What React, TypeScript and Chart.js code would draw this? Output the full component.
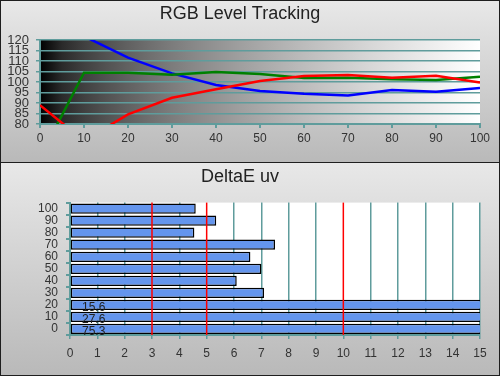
import React, { useEffect, useRef } from "react";
import { Chart, registerables } from "chart.js";

Chart.register(...registerables);

// ---- data ----
const levels = [0, 10, 20, 30, 40, 50, 60, 70, 80, 90, 100];
const redLevels = [89, 72, 84.6, 92.5, 96.5, 100.5, 102.9, 103.3, 102, 103, 99.8];
const greenLevels = [64, 104.4, 104.4, 103.5, 104.8, 103.8, 101.9, 102, 101.3, 101, 102.5];
const blueLevels = [140, 121.8, 111.6, 104.1, 98.6, 95.7, 94.4, 93.6, 96.2, 95.4, 97.1];

const deltaCategories = ["0", "10", "20", "30", "40", "50", "60", "70", "80", "90", "100"];
const deltaE = [75.3, 27.6, 15.6, 7.1, 6.1, 7.0, 6.6, 7.5, 4.55, 5.35, 4.6];
const limitLines = [3, 5, 10];

const FONT = "'Liberation Sans', Arial, sans-serif";
const TEAL = "#5f9c9c";

const gradientBg = {
  id: "gradientBg",
  beforeDraw(chart: any) {
    const { ctx, chartArea: a } = chart;
    const g = ctx.createLinearGradient(a.left, 0, a.right, 0);
    for (let i = 0; i <= 20; i++) {
      const t = i / 20;
      const v = Math.round(255 * Math.pow(t, 0.6));
      g.addColorStop(t, `rgb(${v},${v},${v})`);
    }
    ctx.save();
    ctx.fillStyle = g;
    ctx.fillRect(a.left, a.top, a.right - a.left, a.bottom - a.top);
    ctx.restore();
  },
};

const whiteBg = {
  id: "whiteBg",
  beforeDraw(chart: any) {
    const { ctx, chartArea: a } = chart;
    ctx.save();
    ctx.fillStyle = "#ffffff";
    ctx.fillRect(a.left, a.top, a.right - a.left, a.bottom - a.top);
    ctx.restore();
  },
};

const limitsAndLabels = {
  id: "limitsAndLabels",
  afterDatasetsDraw(chart: any) {
    const { ctx, chartArea: a } = chart;
    const xs = chart.scales.x;
    ctx.save();
    ctx.strokeStyle = "#ff0000";
    ctx.lineWidth = 1.5;
    limitLines.forEach((v) => {
      const px = xs.getPixelForValue(v);
      ctx.beginPath();
      ctx.moveTo(px, a.top);
      ctx.lineTo(px, a.bottom);
      ctx.stroke();
    });
    const meta = chart.getDatasetMeta(0);
    ctx.fillStyle = "#222";
    ctx.font = `12px ${FONT}`;
    ctx.textAlign = "left";
    ctx.textBaseline = "middle";
    meta.data.forEach((bar: any, i: number) => {
      const v = deltaE[i];
      if (v > xs.max) {
        ctx.fillText(v.toFixed(1), a.left + 12, bar.y + 3);
      }
    });
    ctx.restore();
  },
};

export default function App() {
  const topRef = useRef<HTMLCanvasElement>(null);
  const botRef = useRef<HTMLCanvasElement>(null);

  useEffect(() => {
    const mk = (vals: number[]) => levels.map((x, i) => ({ x, y: vals[i] }));
    const c1 = new Chart(topRef.current as HTMLCanvasElement, {
      type: "line",
      data: {
        datasets: [
          { data: mk(redLevels), borderColor: "#ff0000", borderWidth: 2.5, pointRadius: 0, clip: 0 } as any,
          { data: mk(greenLevels), borderColor: "#008000", borderWidth: 2.5, pointRadius: 0, clip: 0 } as any,
          { data: mk(blueLevels), borderColor: "#0000ff", borderWidth: 2.5, pointRadius: 0, clip: 0 } as any,
        ],
      },
      options: {
        animation: false,
        responsive: false,
        devicePixelRatio: 1,
        layout: { padding: { left: 0, right: 20, top: 0, bottom: 0 } },
        plugins: {
          legend: { display: false },
          tooltip: { enabled: false },
          title: {
            display: true,
            text: "RGB Level Tracking",
            color: "#222",
            font: { family: FONT, size: 18, weight: "normal" },
            padding: { top: 3.5, bottom: 14.9 },
          },
        },
        scales: {
          x: {
            type: "linear",
            min: 0,
            max: 100,
            afterFit: (s: any) => { s.height = 38; },
            ticks: { stepSize: 10, autoSkip: false, maxRotation: 0, color: "#333", padding: 3, font: { family: FONT, size: 12 } },
            grid: { drawOnChartArea: false, color: TEAL, lineWidth: 2, tickLength: 4 },
            border: { color: TEAL, width: 2 },
          },
          y: {
            type: "linear",
            min: 80,
            max: 120,
            afterFit: (s: any) => { s.width = 40; },
            ticks: { stepSize: 5, autoSkip: false, color: "#333", padding: 7, font: { family: FONT, size: 13, lineHeight: 1 } },
            grid: { color: TEAL, lineWidth: 1.5, tickLength: 4 },
            border: { color: TEAL, width: 2 },
          },
        },
      } as any,
      plugins: [gradientBg],
    });

    const c2 = new Chart(botRef.current as HTMLCanvasElement, {
      type: "bar",
      data: {
        labels: deltaCategories,
        datasets: [
          {
            data: deltaE,
            backgroundColor: "#6495ed",
            borderColor: "#000000",
            borderWidth: 1.5,
            borderSkipped: false,
            categoryPercentage: 0.85,
            barPercentage: 1,
          } as any,
        ],
      },
      options: {
        indexAxis: "y",
        animation: false,
        responsive: false,
        devicePixelRatio: 1,
        layout: { padding: { left: 0, right: 20, top: 0, bottom: 0 } },
        plugins: {
          legend: { display: false },
          tooltip: { enabled: false },
          title: {
            display: true,
            text: "DeltaE uv",
            color: "#222",
            font: { family: FONT, size: 18, weight: "normal" },
            padding: { top: 4, bottom: 15 },
          },
        },
        scales: {
          x: {
            type: "linear",
            min: 0,
            max: 15,
            afterFit: (s: any) => { s.height = 41; },
            ticks: { stepSize: 1, autoSkip: false, maxRotation: 0, color: "#333", padding: 7, font: { family: FONT, size: 12 } },
            grid: {
              color: (c: any) => (c.tick && limitLines.includes(c.tick.value) ? "rgba(0,0,0,0)" : TEAL),
              tickColor: TEAL,
              lineWidth: 1.5,
              tickLength: 4,
            },
            border: { color: TEAL, width: 2 },
          },
          y: {
            type: "category",
            reverse: true,
            afterFit: (s: any) => { s.width = 70; },
            ticks: { autoSkip: false, color: "#333", padding: 8, font: { family: FONT, size: 12 } },
            grid: { drawOnChartArea: false, offset: true, color: TEAL, lineWidth: 2, tickLength: 4 },
            border: { color: TEAL, width: 2 },
          },
        },
      } as any,
      plugins: [whiteBg, limitsAndLabels],
    });

    return () => {
      c1.destroy();
      c2.destroy();
    };
  }, []);

  const panel = (top: number, height: number): React.CSSProperties => ({
    position: "absolute",
    left: 0,
    top,
    width: 500,
    height,
    boxSizing: "border-box",
    border: "1px solid #1e1e1e",
    background: "linear-gradient(#e8e8e8, #b9b9b9)",
  });

  return (
    <div style={{ position: "absolute", left: 0, top: 0, width: 500, height: 376 }}>
      <div style={panel(0, 163)} />
      <div style={panel(162, 214)} />
      <canvas ref={topRef} width={500} height={162} style={{ position: "absolute", left: 0, top: 0 }} />
      <canvas ref={botRef} width={500} height={214} style={{ position: "absolute", left: 0, top: 162 }} />
    </div>
  );
}
